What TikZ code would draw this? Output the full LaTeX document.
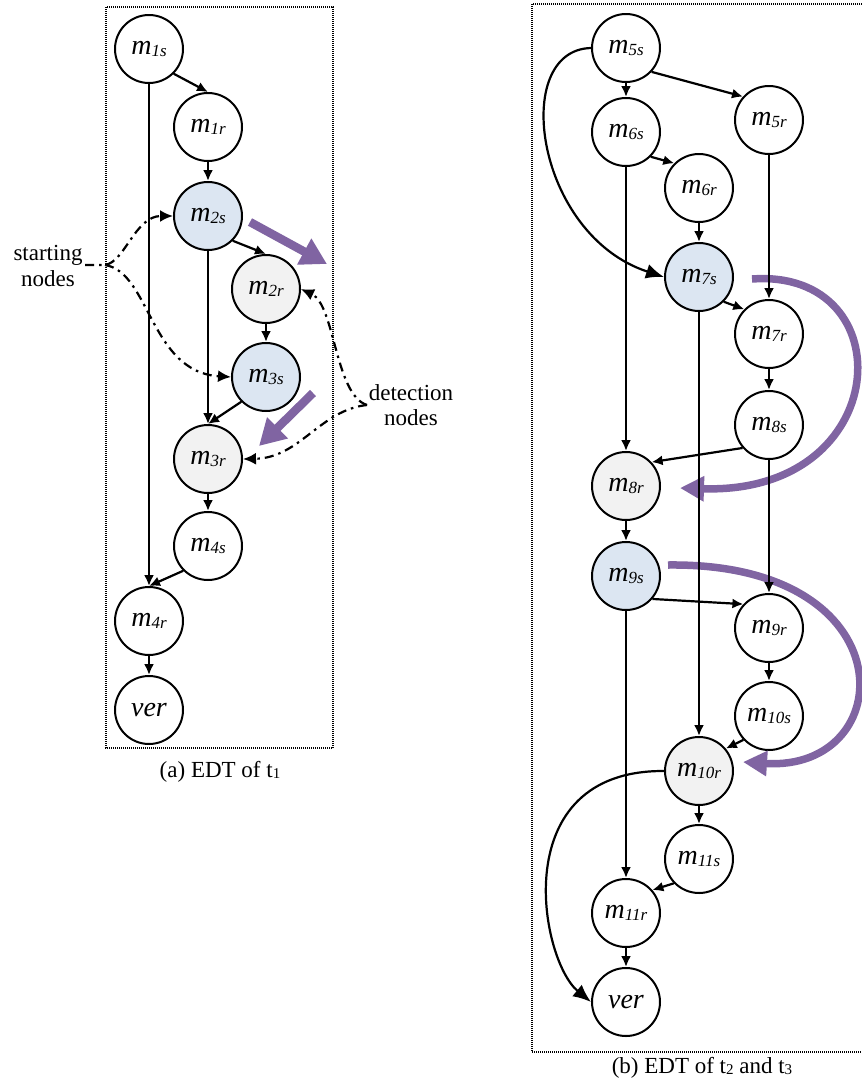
\documentclass[tikz,border=0pt]{standalone}
\usepackage{fontspec}
\setmainfont{Liberation Serif}
\usetikzlibrary{arrows.meta}
\definecolor{startblue}{HTML}{DCE6F2}
\definecolor{detgray}{HTML}{F2F2F2}
\definecolor{flowpurple}{HTML}{8064A2}
% message event label: italic m with a lowered index
\newcommand\msg[1]{\textit{m}\raisebox{-1.5pt}{\fontsize{17}{17}\selectfont\itshape #1}}
\newcommand\lowidx[1]{\raisebox{-1pt}{\fontsize{15}{15}\selectfont #1}}

\begin{document}
\begin{tikzpicture}[x=1pt,y=-1pt,
  ev/.style={circle,draw,line width=2pt,minimum size=68pt,inner sep=0pt,fill=white,font=\fontsize{28}{28}\selectfont},
  evs/.style={ev,fill=startblue},
  evd/.style={ev,fill=detgray},
  link/.style={line width=2.2pt,-{Latex[length=11pt,width=10pt]}},
  biglink/.style={line width=2.2pt,-{Latex[length=18pt,width=15pt]}},
  cue/.style={line width=2.2pt,dash pattern=on 9pt off 5pt on 2.5pt off 5pt,-{Latex[length=13pt,width=12pt]}},
  purplearrow/.style={line width=8.5pt,flowpurple,-{Triangle[length=26pt,width=28pt]}},
  purplearc/.style={line width=7.5pt,flowpurple,-{Triangle[length=24pt,width=24pt]}},
  boxline/.style={line width=1.1pt,dash pattern=on 1pt off 1pt},
  lbl/.style={font=\fontsize{23}{26}\selectfont,inner sep=0pt,anchor=base}
]
\useasboundingbox (0,0) rectangle (862,1082);

% frames
\draw[boxline] (106,7) rectangle (333,748);
\draw[boxline] (868,4) -- (532,4) -- (532,1052) -- (868,1052);

% (a) EDT of t1
\node[ev]  (m1s) at (149,49)  {\msg{1s}};
\node[ev]  (m1r) at (208,127) {\msg{1r}};
\node[evs] (m2s) at (208,216) {\msg{2s}};
\node[evd] (m2r) at (266,289) {\msg{2r}};
\node[evs] (m3s) at (266,377) {\msg{3s}};
\node[evd] (m3r) at (208,459) {\msg{3r}};
\node[ev]  (m4s) at (208,546) {\msg{4s}};
\node[ev]  (m4r) at (149,621) {\msg{4r}};
\node[ev]  (vera) at (149,710) {\textit{ver}};

\draw[link] (m1s.-45) -- (m1r.north);
\draw[link] (m1s) -- (m4r);
\draw[link] (m1r) -- (m2s);
\draw[link] (m2s.-45) -- (m2r.north);
\draw[link] (m2s) -- (m3r);
\draw[link] (m2r) -- (m3s);
\draw[link] (m3s.225) -- (m3r.north);
\draw[link] (m3r) -- (m4s);
\draw[link] (m4s.225) -- (m4r.north);
\draw[link] (m4r) -- (vera);

\coordinate (pa1) at (250,222);
\coordinate (pa2) at (327,264);
\coordinate (pb1) at (313,393);
\coordinate (pb2) at (259,446);
\draw[purplearrow] (pa1) -- (pa2);
\draw[purplearrow] (pb1) -- (pb2);

\node[lbl] (stA) at (48,260) {starting};
\node[lbl] (stB) at (48,286) {nodes};
\coordinate (st) at (85,265);
\coordinate (stfork) at (105,265);
\draw[cue] (st) -- (stfork) .. controls (125,262) and (135,216) .. (m2s.west);
\draw[cue] (stfork) .. controls (150,272) and (150,372) .. (m3s.west);

\node[lbl] (dtA) at (411,400) {detection};
\node[lbl] (dtB) at (411,425) {nodes};
\coordinate (dt) at (367,405);
\draw[cue] (dt) .. controls (335,395) and (335,305) .. (m2r.east);
\draw[cue] (dt) .. controls (320,410) and (300,458) .. (m3r.east);

\node[lbl] (capa) at (220,777) {(a) EDT of t\lowidx{1}};

% (b) EDT of t2 and t3
\node[ev]  (m5s) at (626,48)  {\msg{5s}};
\node[ev]  (m6s) at (626,132) {\msg{6s}};
\node[ev]  (m5r) at (769,120) {\msg{5r}};
\node[ev]  (m6r) at (699,188) {\msg{6r}};
\node[evs] (m7s) at (699,277) {\msg{7s}};
\node[ev]  (m7r) at (769,334) {\msg{7r}};
\node[ev]  (m8s) at (769,425) {\msg{8s}};
\node[evd] (m8r) at (626,486) {\msg{8r}};
\node[evs] (m9s) at (626,576) {\msg{9s}};
\node[ev]  (m9r) at (769,628) {\msg{9r}};
\node[ev]  (m10s) at (769,716) {\msg{10s}};
\node[evd] (m10r) at (699,771) {\msg{10r}};
\node[ev]  (m11s) at (699,859) {\msg{11s}};
\node[ev]  (m11r) at (626,913) {\msg{11r}};
\node[ev]  (verb) at (626,1002) {\textit{ver}};

\coordinate (qa1) at (752,279);
\coordinate (qa2) at (680,488);
\coordinate (qb1) at (668,565);
\coordinate (qb2) at (743,762);
\draw[purplearc] (qa1) .. controls (905,268) and (895,495) .. (qa2);
\draw[purplearc] (qb1) .. controls (910,562) and (900,772) .. (qb2);

\draw[link] (m5s) -- (m6s);
\draw[link] (m5s.-43) -- (m5r.138);
\draw[biglink] (m5s.west) .. controls (510,50) and (535,235) .. (m7s.west);
\draw[link] (m6s.-45) -- (m6r.135);
\draw[link] (m6s) -- (m8r);
\draw[link] (m6r) -- (m7s);
\draw[link] (m5r) -- (m7r);
\draw[link] (m7s.-45) -- (m7r.135);
\draw[link] (m7s) -- (m10r);
\draw[link] (m7r) -- (m8s);
\draw[link] (m8s.221) -- (m8r.43);
\draw[link] (m8s) -- (m9r);
\draw[link] (m8r) -- (m9s);
\draw[link] (m9s.-41) -- (m9r.137);
\draw[link] (m9s) -- (m11r);
\draw[link] (m9r) -- (m10s);
\draw[link] (m10s.223) -- (m10r.40);
\draw[link] (m10r) -- (m11s);
\draw[biglink] (m10r.west) .. controls (505,770) and (540,960) .. (verb.west);
\draw[link] (m11s.224) -- (m11r.41);
\draw[link] (m11r) -- (verb);

\node[lbl] (capb) at (702,1073) {(b) EDT of t\lowidx{2} and t\lowidx{3}};
\end{tikzpicture}
\end{document}
